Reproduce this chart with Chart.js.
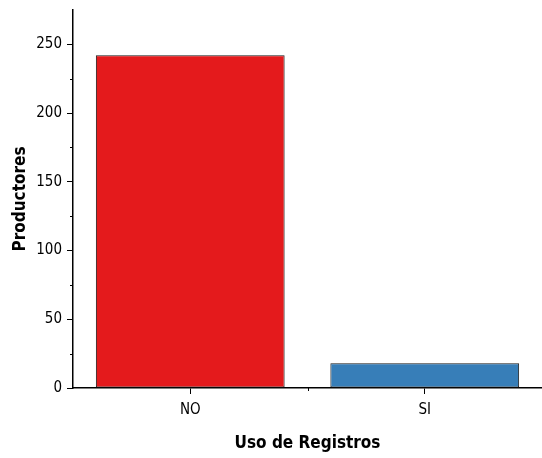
<!DOCTYPE html>
<html>
<head>
<meta charset="utf-8">
<script src="https://cdn.jsdelivr.net/npm/chart.js@4"></script>
<style>
  html, body { margin: 0; padding: 0; background: #fff; }
  #wrap { width: 542px; height: 458px; }
</style>
</head>
<body>
<div id="wrap"><canvas id="myChart"></canvas></div>
<script>
var categories = ['NO', 'SI'];
var productores = [242, 18];
var barColors = ['#E41A1C', '#377EB8'];
var yTickValues = [0, 50, 100, 150, 200, 250];
var yMinorValues = [25, 75, 125, 175, 225];

var FONT = "'Liberation Sans Narrow', 'DejaVu Sans Condensed', sans-serif";

// minor ticks on y, and the short tick between the two categories
var minorTicks = {
  id: 'minorTicks',
  afterDraw: function(chart) {
    var c = chart.ctx;
    var y = chart.scales.y, x = chart.scales.x;
    c.save();
    c.strokeStyle = '#000';
    c.lineWidth = 1;
    c.beginPath();
    yMinorValues.forEach(function(v) {
      var py = Math.round(y.getPixelForValue(v)) + 0.5;
      c.moveTo(y.right - 3, py);
      c.lineTo(y.right, py);
    });
    var mid = Math.round((x.getPixelForValue(0) + x.getPixelForValue(1)) / 2) + 0.5;
    c.moveTo(mid, x.top);
    c.lineTo(mid, x.top + 3);
    c.stroke();
    c.restore();
  }
};

var ctx = document.getElementById('myChart').getContext('2d');
new Chart(ctx, {
  type: 'bar',
  data: {
    labels: categories,
    datasets: [{
      data: productores,
      backgroundColor: barColors,
      borderColor: '#1a1a1a',
      borderWidth: 1,
      borderSkipped: false,
      categoryPercentage: 0.805,
      barPercentage: 1
    }]
  },
  options: {
    responsive: true,
    maintainAspectRatio: false,
    animation: false,
    layout: { padding: { top: 10, right: 0, left: 0, bottom: 0 } },
    plugins: { legend: { display: false }, tooltip: { enabled: false } },
    scales: {
      x: {
        offset: true,
        grid: { display: true, offset: false, drawOnChartArea: false, drawTicks: true, tickLength: 6, color: '#000' },
        border: { display: true, color: '#000', width: 1.5 },
        ticks: { color: '#000', font: { family: FONT, size: 15 }, padding: 7 },
        title: { display: true, text: 'Uso de Registros', color: '#000',
                 font: { family: FONT, size: 17, weight: 'bold' }, padding: { top: 13 } },
        afterFit: function(s) { s.height = 70; }
      },
      y: {
        min: 0,
        max: 275,
        afterBuildTicks: function(s) { s.ticks = yTickValues.map(function(v) { return { value: v }; }); },
        grid: { display: true, drawOnChartArea: false, drawTicks: true, tickLength: 6, color: '#000' },
        border: { display: true, color: '#000', width: 1.5 },
        ticks: { color: '#000', font: { family: FONT, size: 15 }, padding: 5 },
        title: { display: true, text: 'Productores', color: '#000',
                 font: { family: FONT, size: 17, weight: 'bold' }, padding: { top: 10, bottom: 0 } },
        afterFit: function(s) { s.width = 73; s.paddingTop = 0; }
      }
    }
  },
  plugins: [minorTicks]
});
</script>
</body>
</html>
